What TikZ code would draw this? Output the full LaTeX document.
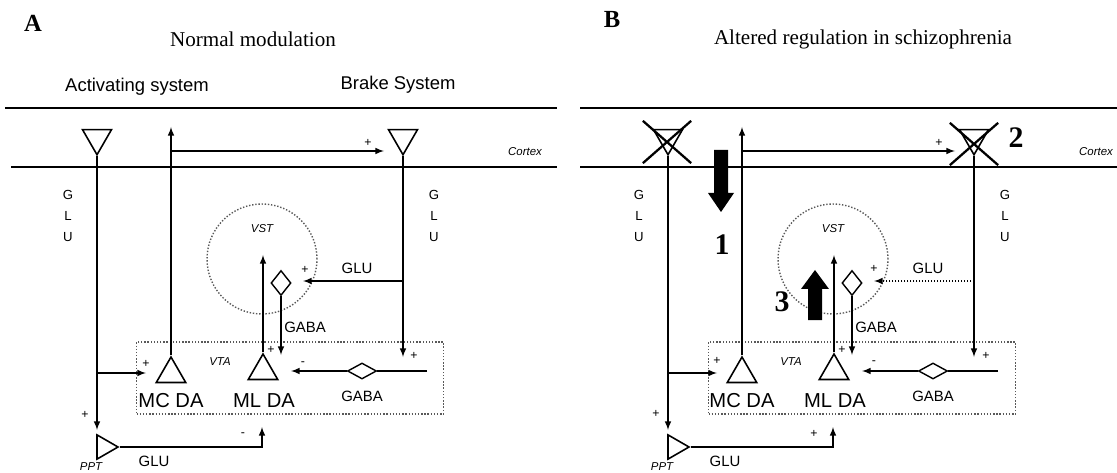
\documentclass[tikz,border=0pt]{standalone}
\usepackage{fontspec}
\setmainfont{Liberation Serif}
\setsansfont{Liberation Sans}
\usetikzlibrary{shapes.geometric,shapes.misc}

\begin{document}
\begin{tikzpicture}[
    x=0.02cm, y=-0.02cm,
    line/.style={draw, line width=0.7pt},
    arrow/.style={draw, line width=0.7pt, ->, >=latex},
    soma/.style={regular polygon, regular polygon sides=3, draw, line width=0.9pt,
                 inner sep=0pt, minimum size=#1},
    soma/.default=0.68cm,
    xmark/.style={cross out, draw, line width=1.3pt, inner sep=0pt,
                  minimum width=0.92cm, minimum height=0.8cm},
    vst/.style={circle, draw=black!65, densely dotted, line width=0.8pt,
                inner sep=0pt, minimum size=2.2cm},
    vta/.style={rectangle, draw=black!65, densely dotted, line width=0.8pt,
                inner sep=0pt, minimum width=6.14cm, minimum height=1.44cm},
    gate/.style={diamond, draw, line width=0.8pt, inner sep=0pt},
    txt/.style={font=\sffamily\fontsize{8.5}{10}\selectfont, inner sep=0pt},
    sgn/.style={font=\sffamily\fontsize{7}{8}\selectfont, inner sep=0pt},
    cell/.style={font=\sffamily\fontsize{11.5}{12}\selectfont, inner sep=0pt},
    tag/.style={font=\sffamily\itshape\fontsize{6.5}{8}\selectfont, inner sep=0pt},
    glu/.style={font=\sffamily\fontsize{7.5}{11.7}\selectfont, align=center, inner sep=0pt},
    sys/.style={font=\sffamily\fontsize{10.5}{12}\selectfont, inner sep=0pt},
    head/.style={font=\fontsize{12}{14}\selectfont, inner sep=0pt},
    panel/.style={font=\bfseries\fontsize{14}{16}\selectfont, inner sep=0pt},
    num/.style={font=\bfseries\fontsize{17}{20}\selectfont, inner sep=0pt},
]
\useasboundingbox (0,0) rectangle (1117,473);

% ---------------- Panel A: normal modulation ----------------
\node[panel] (labA) at (33,23) {A};
\node[head] (titA) at (253,39) {Normal modulation};
\node[sys] (actA) at (137,87) {Activating system};
\node[sys] (brkA) at (398,85) {Brake System};

\coordinate (topAl) at (5,108);
\coordinate (topAr) at (557,108);
\coordinate (cxAl) at (11,167);
\coordinate (cxAr) at (557,167);
\draw[line] (topAl) -- (topAr);
\draw[line] (cxAl) -- (cxAr);
\node[tag] (cortA) at (525,152) {Cortex};

% cortical cells
\node[soma=0.67cm, shape border rotate=180] (ctxAl) at (97,138) {};
\node[soma=0.67cm, shape border rotate=180] (ctxAr) at (403,138) {};

% VST and VTA
\node[vst] (vstA) at (262,259) {};
\node[tag] (vstlA) at (262,229) {VST};
\node[vta] (vtaA) at (290,378) {};
\node[tag] (vtalA) at (220,362) {VTA};
\node[soma] (mcA) at (171,374) {};
\node[soma] (mlA) at (263,371) {};
\node[gate, minimum width=0.4cm, minimum height=0.5cm] (gabAd) at (281,283) {};
\node[gate, minimum width=0.58cm, minimum height=0.32cm] (gabAh) at (362,371) {};
\node[soma=0.56cm, shape border rotate=-90] (pptA) at (104,447) {};

\coordinate (mcupA) at (171,127);
\coordinate (hzA) at (384,151);
\coordinate (gluinA) at (97,430);
\coordinate (brA) at (146,373);
\coordinate (rtA) at (403,357);
\coordinate (vstinA) at (303,281);
\coordinate (mlupA) at (263,255);
\coordinate (gabdnA) at (281,355);
\coordinate (gabinA) at (427,371);
\coordinate (gaboutA) at (291,371);
\coordinate (pptupA) at (262,427);

% connections
\draw[arrow] (ctxAl.south) -- (gluinA);
\draw[arrow] (ctxAl.south |- brA) -- (brA);
\draw[arrow] (mcA.north) -- (mcupA);
\draw[arrow] (mcA.north |- hzA) -- (hzA);
\draw[arrow] (ctxAr.south) -- (rtA);
\draw[arrow] (ctxAr.south |- vstinA) -- (vstinA);
\draw[arrow] (mlA.north) -- (mlupA);
\draw[arrow] (gabAd.south) -- (gabdnA);
\draw[line] (gabinA) -- (gabAh.east);
\draw[arrow] (gabAh.west) -- (gaboutA);
\draw[arrow] (pptA.east) -| (pptupA);

% labels
\node[sgn] (pA1) at (368,143) {+};
\node[glu] (gluAl) at (68,216) {G\\L\\U};
\node[glu] (gluAr) at (434,216) {G\\L\\U};
\node[txt] (glulA) at (357,268) {GLU};
\node[sgn] (pA2) at (305,270) {+};
\node[txt] (gablA) at (305,327) {GABA};
\node[sgn] (pA3) at (271,350) {+};
\node[sgn] (pA4) at (146,364) {+};
\node[sgn] (pA5) at (414,356) {+};
\node[sgn] (mA1) at (303,364) {-};
\node[cell] (mclA) at (171,401) {MC DA};
\node[cell] (mllA) at (264,401) {ML DA};
\node[txt] (gab2A) at (362,396) {GABA};
\node[sgn] (pA6) at (85,415) {+};
\node[sgn] (mA2) at (243,435) {-};
\node[txt] (glu2A) at (154,461) {GLU};
\node[tag] (pptlA) at (91,467) {PPT};

% ---------------- Panel B: altered regulation ----------------
\node[panel] (labB) at (612,19) {B};
\node[head] (titB) at (863,39) {Altered regulation in schizophrenia};

\coordinate (topBl) at (580,108);
\coordinate (topBr) at (1117,108);
\coordinate (cxBl) at (580,167);
\coordinate (cxBr) at (1117,167);
\draw[line] (topBl) -- (topBr);
\draw[line] (cxBl) -- (cxBr);
\node[tag] (cortB) at (1096,152) {Cortex};

% cortical cells, crossed out
\node[soma=0.67cm, shape border rotate=180] (ctxBl) at (668,138) {};
\node[soma=0.67cm, shape border rotate=180] (ctxBr) at (974,138) {};
\node[xmark] (xBl) at (667,142) {};
\node[xmark] (xBr) at (974,144) {};

% VST and VTA
\node[vst] (vstB) at (833,259) {};
\node[tag] (vstlB) at (833,229) {VST};
\node[vta] (vtaB) at (862,378) {};
\node[tag] (vtalB) at (791,362) {VTA};
\node[soma] (mcB) at (742,374) {};
\node[soma] (mlB) at (834,371) {};
\node[gate, minimum width=0.4cm, minimum height=0.5cm] (gabBd) at (852,283) {};
\node[gate, minimum width=0.58cm, minimum height=0.32cm] (gabBh) at (933,371) {};
\node[soma=0.56cm, shape border rotate=-90] (pptB) at (675,447) {};

\coordinate (mcupB) at (742,127);
\coordinate (hzB) at (955,151);
\coordinate (gluinB) at (668,430);
\coordinate (brB) at (717,373);
\coordinate (rtB) at (974,357);
\coordinate (vstinB) at (874,281);
\coordinate (mlupB) at (834,255);
\coordinate (gabdnB) at (852,355);
\coordinate (gabinB) at (998,371);
\coordinate (gaboutB) at (862,371);
\coordinate (pptupB) at (833,427);

% connections
\draw[arrow] (ctxBl.south) -- (gluinB);
\draw[arrow] (ctxBl.south |- brB) -- (brB);
\draw[arrow] (mcB.north) -- (mcupB);
\draw[arrow] (mcB.north |- hzB) -- (hzB);
\draw[arrow] (ctxBr.south) -- (rtB);
\draw[arrow, densely dotted] (ctxBr.south |- vstinB) -- (vstinB);
\draw[arrow] (mlB.north) -- (mlupB);
\draw[arrow] (gabBd.south) -- (gabdnB);
\draw[line] (gabinB) -- (gabBh.east);
\draw[arrow] (gabBh.west) -- (gaboutB);
\draw[arrow] (pptB.east) -| (pptupB);

% big arrows 1 and 3
\fill (714,150) -- (728,150) -- (728,193) -- (734,193) -- (721,212) -- (708,193) -- (714,193) -- cycle;
\fill (808,320) -- (822,320) -- (822,289) -- (829,289) -- (815,270) -- (801,289) -- (808,289) -- cycle;
\node[num] (n1) at (722,245) {1};
\node[num] (n2) at (1016,138) {2};
\node[num] (n3) at (782,302) {3};

% labels
\node[sgn] (pB1) at (939,143) {+};
\node[glu] (gluBl) at (639,216) {G\\L\\U};
\node[glu] (gluBr) at (1005,216) {G\\L\\U};
\node[txt] (glulB) at (928,268) {GLU};
\node[sgn] (pB2) at (874,269) {+};
\node[txt] (gablB) at (876,327) {GABA};
\node[sgn] (pB3) at (842,350) {+};
\node[sgn] (pB4) at (717,361) {+};
\node[sgn] (pB5) at (986,356) {+};
\node[sgn] (mB1) at (874,363) {-};
\node[cell] (mclB) at (742,401) {MC DA};
\node[cell] (mllB) at (835,401) {ML DA};
\node[txt] (gab2B) at (933,396) {GABA};
\node[sgn] (pB6) at (656,414) {+};
\node[sgn] (pB7) at (814,434) {+};
\node[txt] (glu2B) at (725,461) {GLU};
\node[tag] (pptlB) at (662,467) {PPT};

\end{tikzpicture}
\end{document}
